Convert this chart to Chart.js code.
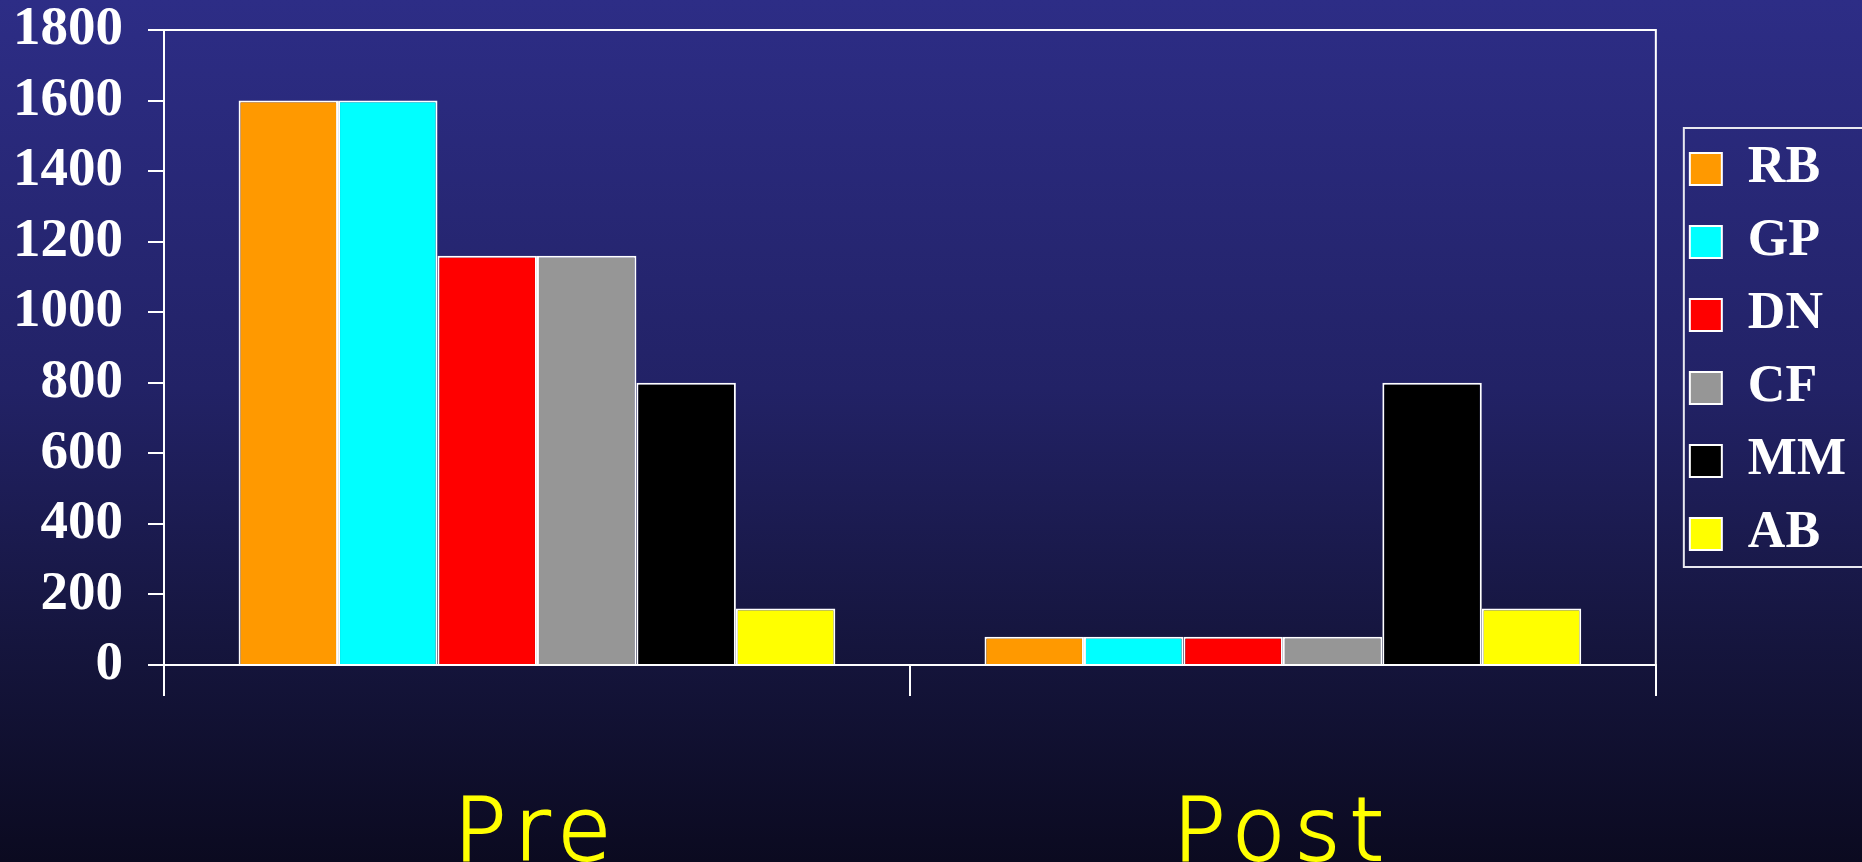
<!DOCTYPE html>
<html>
<head>
<meta charset="utf-8">
<script src="https://cdn.jsdelivr.net/npm/chart.js@4/dist/chart.umd.min.js"></script>
<style>
  html, body { margin: 0; padding: 0; width: 1862px; height: 862px; overflow: hidden; }
  body { background: linear-gradient(to bottom, #2d2d86 0%, #222266 45%, #15153d 75%, #0b0a20 100%); }
  #wrap { position: relative; width: 1862px; height: 862px; }
</style>
</head>
<body>
<div id="wrap"><canvas id="chart"></canvas></div>
<script>
// data
const categories = ['Pre', 'Post'];
const seriesNames = ['RB', 'GP', 'DN', 'CF', 'MM', 'AB'];
const rbValues = [1600, 80];
const gpValues = [1600, 80];
const dnValues = [1160, 80];
const cfValues = [1160, 80];
const mmValues = [800, 800];
const abValues = [160, 160];
const seriesColors = ['#ff9900', '#00ffff', '#ff0000', '#969696', '#000000', '#ffff00'];
const yMin = 0;
const yMax = 1800;
const yStep = 200;

const allValues = [rbValues, gpValues, dnValues, cfValues, mmValues, abValues];

// gap between plot and legend, and how far the legend sits into it
const legendGap = 19;
const legendNudge = 13;

const framePlugin = {
    id: 'frame',
    beforeLayout(chart) {
        const lg = chart.legend;
        if (lg && !lg._wrapped) {
            const fit = lg.fit.bind(lg);
            lg.fit = function () {
                fit();
                this.width += legendGap;
            };
            lg._wrapped = true;
        }
    },
    afterLayout(chart) {
        const lg = chart.legend;
        if (lg) {
            lg.left += legendNudge;
        }
        // spaced-out category labels
        const xs = chart.scales.x;
        if (xs && !xs._wrapped) {
            const drawLabels = xs.drawLabels.bind(xs);
            xs.drawLabels = function (area) {
                const ctx = this.ctx;
                const old = ctx.letterSpacing;
                ctx.letterSpacing = '9px';
                drawLabels(area);
                ctx.letterSpacing = old || '0px';
            };
            xs._wrapped = true;
        }
    },
    afterDraw(chart) {
        const ctx = chart.ctx;
        const area = chart.chartArea;
        ctx.save();
        ctx.strokeStyle = '#ffffff';
        ctx.lineWidth = 2;
        // top and right edges of the plot box
        ctx.beginPath();
        ctx.moveTo(area.left, area.top);
        ctx.lineTo(area.right, area.top);
        ctx.lineTo(area.right, area.bottom);
        ctx.stroke();

        // legend frame, open past the right edge of the canvas
        const lg = chart.legend;
        if (lg && lg.columnSizes && lg.columnSizes.length) {
            const opts = lg.options.labels;
            const pad = opts.padding;
            const size = opts.font.size;
            const n = lg.legendItems.length;
            const titleH = lg._computeTitleHeight();
            const colH = lg.columnSizes[0].height;
            const y0 = (lg.top + titleH + pad + lg.bottom - colH) / 2;
            const firstBox = y0 + (size - opts.boxHeight) / 2;
            const lastBox = firstBox + (n - 1) * (size + pad) + opts.boxHeight;
            const top = firstBox - 25;
            const bottom = lastBox + 17;
            ctx.lineWidth = 2;
            ctx.strokeStyle = '#e8e8f0';
            ctx.strokeRect(lg.left + 15, top, chart.width, bottom - top);
        }
        ctx.restore();
    }
};

const datasets = seriesNames.map((name, i) => ({
    label: name,
    data: allValues[i],
    backgroundColor: seriesColors[i],
    borderColor: '#ffffff',
    borderWidth: 2,
    borderSkipped: 'start'
}));

new Chart(document.getElementById('chart'), {
    type: 'bar',
    data: {
        labels: categories,
        datasets: datasets
    },
    options: {
        responsive: true,
        maintainAspectRatio: false,
        animation: false,
        layout: {
            padding: { left: -12, top: 0, right: 0, bottom: -116 }
        },
        datasets: {
            bar: {
                categoryPercentage: 0.8,
                barPercentage: 1.0
            }
        },
        plugins: {
            tooltip: { enabled: false },
            legend: {
                display: true,
                position: 'right',
                fullSize: false,
                title: {
                    display: true,
                    text: '',
                    padding: 0,
                    font: { size: 8, lineHeight: 1 }
                },
                labels: {
                    color: '#ffffff',
                    boxWidth: 32,
                    boxHeight: 32,
                    padding: 21,
                    font: { family: 'Liberation Serif', weight: 'bold', size: 52, lineHeight: 1 },
                    generateLabels(chart) {
                        return chart.data.datasets.map((ds, i) => ({
                            text: ds.label,
                            fillStyle: ds.backgroundColor,
                            strokeStyle: '#ffffff',
                            lineWidth: 2,
                            fontColor: '#ffffff',
                            hidden: false,
                            datasetIndex: i
                        }));
                    }
                }
            }
        },
        scales: {
            x: {
                grid: {
                    display: true,
                    drawOnChartArea: false,
                    drawTicks: true,
                    tickLength: 31,
                    offset: true,
                    color: '#ffffff',
                    lineWidth: 2
                },
                border: { display: true, color: '#ffffff', width: 2 },
                ticks: {
                    color: '#ffff00',
                    textStrokeColor: '#ffff00',
                    textStrokeWidth: 2,
                    padding: 97,
                    maxRotation: 0,
                    font: { family: 'DejaVu Sans', weight: 200, size: 88, lineHeight: 1 }
                }
            },
            y: {
                min: yMin,
                max: yMax,
                grid: {
                    display: true,
                    drawOnChartArea: false,
                    drawTicks: true,
                    tickLength: 16,
                    color: '#ffffff',
                    lineWidth: 2
                },
                border: { display: true, color: '#ffffff', width: 2 },
                ticks: {
                    stepSize: yStep,
                    color: '#ffffff',
                    padding: 25,
                    font: { family: 'Liberation Serif', weight: 'bold', size: 55, lineHeight: 1 },
                    callback: value => String(value)
                },
                afterFit(scale) {
                    scale.paddingTop = 30;
                }
            }
        }
    },
    plugins: [framePlugin]
});
</script>
</body>
</html>
